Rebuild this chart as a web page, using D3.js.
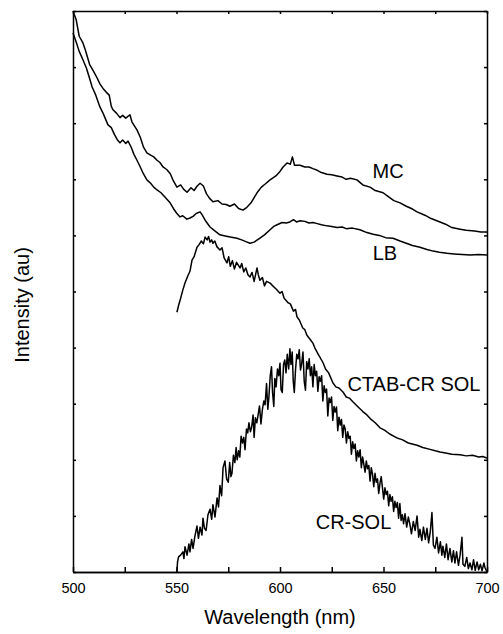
<!DOCTYPE html>
<html>
<head>
<meta charset="utf-8">
<script src="https://cdn.jsdelivr.net/npm/d3@7"></script>
<style>
  body { margin: 0; background: #fff; }
  svg { display: block; font-family: Arial, "Liberation Sans", sans-serif; }
  .curve { fill: none; stroke: #000; stroke-width: 1.5; stroke-linejoin: round; }
  .axis path, .axis line { stroke: #000; stroke-width: 1.5; }
  .axis text { font-size: 14.5px; fill: #000; }
</style>
</head>
<body>
<svg id="chart" width="503" height="634"></svg>
<script>
// wavelength (nm), intensity (au, 0-10 scale of the frame)
const mc = [[500,10.0],[501.5,9.85],[503,9.55],[504.8,9.43],[506,9.30],[508,9.05],[510,8.92],[511.6,8.81],[513,8.70],[514.5,8.62],[516.4,8.54],[517.5,8.50],[518.5,8.30],[519.3,8.24],[521,8.18],[522.7,8.10],[524,8.14],[525.5,8.09],[527.5,8.15],[528.5,8.02],[530.9,7.88],[532.5,7.75],[534,7.58],[535.7,7.47],[537.5,7.43],[539,7.40],[540.6,7.34],[542,7.30],[543.5,7.22],[545.4,7.17],[547,7.10],[548.5,6.97],[550.2,6.86],[552,6.90],[553.5,6.82],[555.1,6.77],[557,6.85],[558.5,6.80],[560,6.88],[561.4,6.93],[563,6.88],[564.5,6.74],[566,6.66],[567.6,6.60],[570,6.62],[572,6.56],[574,6.55],[575.8,6.52],[578,6.56],[580,6.48],[582.1,6.45],[584,6.50],[586,6.58],[588.9,6.76],[591,6.86],[593,6.92],[595.2,6.99],[598,7.06],[600,7.14],[601.5,7.22],[603.4,7.29],[605,7.27],[606,7.40],[607,7.25],[609.7,7.25],[612,7.22],[614,7.22],[615.9,7.19],[618,7.16],[620,7.12],[622.7,7.09],[625,7.08],[627.5,7.06],[630,7.04],[632,7.00],[634,7.02],[637.2,6.99],[640,6.90],[643.5,6.86],[646,6.80],[649.8,6.76],[652,6.70],[655,6.62],[658,6.58],[661,6.52],[664,6.47],[666.2,6.42],[670,6.36],[673,6.30],[677.3,6.24],[680,6.20],[683,6.14],[687,6.11],[690,6.09],[694,6.08],[697,6.06],[700,6.06]];

const lb = [[500,9.61],[501.5,9.45],[503,9.28],[504.8,9.13],[506.5,8.98],[508,8.80],[509.2,8.65],[511,8.50],[513,8.29],[514.5,8.18],[516.9,7.97],[518.5,7.92],[520,7.80],[521.5,7.70],[522.7,7.65],[524,7.70],[525.5,7.64],[526.6,7.68],[528,7.58],[529.5,7.44],[530.9,7.34],[532.5,7.22],[534,7.10],[535.7,6.99],[537.5,6.93],[539,6.86],[540.6,6.81],[542.5,6.76],[544.5,6.68],[546.9,6.58],[548.5,6.48],[550,6.40],[551.7,6.33],[553,6.35],[555,6.29],[556.5,6.31],[558,6.34],[559.5,6.39],[561.4,6.42],[562.5,6.36],[564,6.26],[566.2,6.15],[568.5,6.08],[571,6.01],[573.5,5.99],[576,5.97],[579.2,5.95],[581.5,5.92],[583.5,5.89],[585.5,5.86],[587.5,5.88],[590.3,5.95],[592.5,6.01],[595.2,6.10],[597,6.16],[598.6,6.19],[601,6.23],[603,6.22],[604.8,6.24],[606.5,6.28],[608,6.24],[609.7,6.26],[612,6.25],[614,6.22],[615.9,6.23],[618,6.21],[620,6.19],[622.7,6.17],[625,6.16],[627.5,6.14],[630,6.15],[632,6.12],[635,6.13],[638.6,6.10],[642,6.05],[645,6.02],[648,6.00],[651,5.96],[654.6,5.95],[658,5.90],[661,5.86],[664,5.82],[667.6,5.79],[671,5.75],[674,5.72],[677,5.70],[680.7,5.68],[684,5.67],[688,5.66],[692,5.65],[696,5.66],[700,5.65]];

const ctab = [[550.2,4.63],[551,4.75],[552,4.88],[553,5.02],[554.1,5.15],[555.5,5.28],[556.5,5.36],[557.5,5.56],[558.5,5.62],[559.9,5.79],[561,5.84],[562,5.90],[563,5.85],[563.8,5.97],[564.8,5.92],[565.5,5.98],[566.2,5.88],[567,5.92],[567.6,5.86],[568.5,5.90],[569.5,5.80],[571,5.74],[572,5.78],[573,5.60],[574.4,5.51],[575.2,5.62],[576,5.45],[577,5.55],[578,5.40],[579,5.52],[580.7,5.42],[581.5,5.50],[582.5,5.35],[583.5,5.42],[584.5,5.30],[585.5,5.26],[586.5,5.34],[587.5,5.18],[588.9,5.42],[589.5,5.30],[590.3,5.20],[591.5,5.25],[592.5,5.10],[593.5,5.18],[595.2,5.15],[596.5,5.10],[598,5.05],[600,4.97],[601,5.00],[602,4.88],[603.9,4.80],[605,4.78],[606.5,4.65],[607.5,4.68],[608.2,4.55],[609.5,4.48],[611,4.35],[612,4.32],[613,4.22],[614.5,4.15],[615.9,4.08],[617,3.98],[618.5,3.88],[620.8,3.73],[622,3.62],[623.5,3.55],[625.6,3.37],[627,3.30],[628.5,3.28],[630.4,3.21],[632,3.12],[633.5,3.10],[635.3,3.03],[637.5,2.95],[640,2.86],[642,2.80],[644,2.72],[646,2.66],[648.3,2.57],[650.5,2.53],[653,2.46],[656.5,2.39],[659,2.36],[662,2.30],[666.2,2.26],[669,2.22],[672,2.19],[675,2.16],[677.3,2.14],[680,2.12],[683,2.10],[687,2.09],[690,2.07],[693,2.08],[696,2.05],[698,2.06],[700,2.03]];

const crSol = [[550.2,0],[550.5,0.18],[551,0.27],[552,0.30],[553.1,0.36],[553.6,0.24],[554.1,0.45],[555.1,0.30],[556,0.50],[556.5,0.36],[557.3,0.58],[558,0.42],[558.9,0.64],[559.9,0.82],[560.6,0.60],[561.4,0.80],[562.3,0.66],[562.8,0.96],[563.5,0.78],[564.3,0.74],[565.2,1.02],[566.2,1.12],[567,0.94],[567.6,1.20],[568.6,0.98],[569.6,1.32],[570.3,1.16],[571,1.54],[571.8,1.36],[572.5,1.86],[573.4,1.98],[574.2,1.66],[575,1.60],[575.7,1.95],[576.3,1.70],[576.8,1.76],[577.5,2.08],[578.2,1.95],[578.8,2.22],[579.3,2.00],[580,2.16],[580.6,2.05],[581.2,2.42],[581.9,2.30],[582.5,2.40],[583.1,2.18],[583.8,2.55],[584.4,2.48],[585,2.66],[585.7,2.50],[586.3,2.58],[587,2.80],[587.5,2.40],[588.1,2.75],[588.8,2.66],[589.5,2.82],[590.1,2.96],[590.8,2.64],[591.5,2.90],[592.2,3.05],[592.8,2.98],[593.5,3.36],[594.1,2.90],[594.6,3.10],[595.3,3.50],[595.9,3.66],[596.4,3.20],[597,2.95],[597.5,3.45],[598.1,3.30],[598.8,3.62],[599.4,3.50],[600,3.72],[600.5,3.25],[601.1,3.20],[601.7,3.70],[602.3,3.78],[602.9,3.55],[603.5,3.88],[604.2,3.62],[604.8,3.98],[605.3,3.70],[605.9,3.92],[606.4,3.40],[606.9,3.20],[607.5,3.60],[608.1,3.88],[608.7,3.80],[609.3,3.96],[609.9,3.60],[610.5,3.72],[611.1,3.92],[611.7,3.40],[612.3,3.24],[612.9,3.75],[613.5,3.62],[614.1,3.80],[614.7,3.50],[615.3,3.66],[615.9,3.30],[616.5,3.70],[617.1,3.50],[617.7,3.58],[618.3,3.22],[618.9,3.48],[619.5,3.40],[620.1,3.50],[620.7,3.05],[621.3,3.32],[621.9,3.20],[622.5,3.26],[623.1,2.78],[623.7,3.10],[624.3,3.02],[624.9,3.12],[625.5,2.70],[626.1,2.95],[626.7,2.85],[627.3,2.94],[627.9,2.52],[628.5,2.76],[629.1,2.62],[629.7,2.72],[630.3,2.40],[630.9,2.62],[631.5,2.55],[632.1,2.30],[632.7,2.50],[633.3,2.38],[633.9,2.42],[634.5,2.10],[635.1,2.32],[635.7,2.20],[636.3,2.28],[636.9,1.98],[637.5,2.16],[638.1,2.05],[638.7,2.18],[639.3,1.86],[639.9,2.05],[640.5,1.92],[641.1,1.78],[641.7,1.98],[642.3,1.84],[642.9,1.90],[643.5,1.62],[644.1,1.86],[644.7,1.74],[645.3,1.52],[645.9,1.76],[646.5,1.60],[647.1,1.66],[647.7,1.40],[648.3,1.58],[648.9,1.70],[649.5,1.50],[650.1,1.30],[650.7,1.50],[651.3,1.38],[651.9,1.44],[652.5,1.18],[653.1,1.38],[653.7,1.26],[654.3,1.34],[654.9,1.08],[655.5,1.26],[656.1,1.15],[656.7,1.24],[657.3,0.96],[657.9,1.22],[658.5,0.92],[659.1,1.02],[659.7,0.86],[660.4,1.04],[661.2,0.80],[662,0.98],[662.8,0.84],[663.5,0.68],[664.4,0.90],[665.3,0.74],[666.2,1.00],[667,0.62],[667.6,0.76],[668.5,0.56],[669.3,0.80],[670.2,0.58],[671,0.78],[671.8,0.52],[672.6,0.72],[673.4,1.06],[674.1,0.48],[674.9,0.42],[675.8,0.62],[676.6,0.34],[677.5,0.54],[678.2,0.30],[678.7,0.46],[679.6,0.26],[680.4,0.50],[681.2,0.22],[682.1,0.42],[683,0.18],[683.8,0.38],[684.5,0.16],[685.3,0.36],[686.2,0.12],[687,0.30],[687.9,0.62],[688.4,0.14],[689.3,0.10],[690.2,0.26],[691,0.06],[691.8,0.16],[692.7,0.04],[693.5,0.22],[694.3,0.03],[695.2,0.18],[696,0.04],[696.8,0.14],[697.6,0.02],[698.5,0.16],[699,0.08],[700,0]];

const majorTicks = [500, 550, 600, 650, 700];
const minorTicks = [525, 575, 625, 675];
const yTicks = [0, 1, 2, 3, 4, 5, 6, 7, 8, 9, 10];

// label text + where its centre/baseline sits in data units (wavelength, intensity)
const curveLabels = [
    {text: 'MC', x: 652.2, y: 7.02},
    {text: 'LB', x: 650.7, y: 5.56},
    {text: 'CTAB-CR SOL', x: 664.7, y: 3.23},
    {text: 'CR-SOL', x: 635.5, y: 0.77}
];

const margin = {top: 11, right: 16, bottom: 62, left: 73};
const width = 503 - margin.left - margin.right;
const height = 634 - margin.top - margin.bottom;

const svg = d3.select('#chart');
const g = svg.append('g')
    .attr('transform', 'translate(' + margin.left + ',' + margin.top + ')');

const x = d3.scaleLinear().domain([500, 700]).range([0, width]);
const y = d3.scaleLinear().domain([0, 10]).range([height, 0]);

const line = d3.line()
    .x(function(d) { return x(d[0]); })
    .y(function(d) { return y(d[1]); });

[mc, lb, ctab, crSol].forEach(function(series) {
    g.append('path')
        .datum(series)
        .attr('class', 'curve')
        .attr('d', line);
});

// bottom axis with labels, plus minor ticks
g.append('g')
    .attr('class', 'axis')
    .attr('transform', 'translate(0,' + height + ')')
    .call(d3.axisBottom(x).tickValues(majorTicks).tickFormat(d3.format('d'))
        .tickSizeInner(-5).tickSizeOuter(0).tickPadding(11));
g.append('g')
    .attr('class', 'axis')
    .attr('transform', 'translate(0,' + height + ')')
    .call(d3.axisBottom(x).tickValues(minorTicks).tickFormat('')
        .tickSizeInner(-5).tickSizeOuter(0));

// top axis, ticks only
g.append('g')
    .attr('class', 'axis')
    .call(d3.axisTop(x).tickValues(majorTicks.concat(minorTicks)).tickFormat('')
        .tickSizeInner(-3).tickSizeOuter(0));

// left and right axes, ticks only
g.append('g')
    .attr('class', 'axis')
    .call(d3.axisLeft(y).tickValues(yTicks).tickFormat('')
        .tickSizeInner(-3).tickSizeOuter(0));
g.append('g')
    .attr('class', 'axis')
    .attr('transform', 'translate(' + width + ',0)')
    .call(d3.axisRight(y).tickValues(yTicks).tickFormat('')
        .tickSizeInner(-3).tickSizeOuter(0));

// curve labels
g.selectAll('.curveLabel')
    .data(curveLabels)
    .enter()
    .append('text')
    .attr('class', 'curveLabel')
    .attr('x', function(d) { return x(d.x); })
    .attr('y', function(d) { return y(d.y); })
    .attr('text-anchor', 'middle')
    .attr('font-size', '20px')
    .text(function(d) { return d.text; });

// axis titles
svg.append('text')
    .attr('x', margin.left + width / 2)
    .attr('y', 624)
    .attr('text-anchor', 'middle')
    .attr('font-size', '20px')
    .text('Wavelength (nm)');

svg.append('text')
    .attr('transform', 'translate(29,305) rotate(-90)')
    .attr('text-anchor', 'middle')
    .attr('font-size', '20px')
    .text('Intensity (au)');
</script>
</body>
</html>
